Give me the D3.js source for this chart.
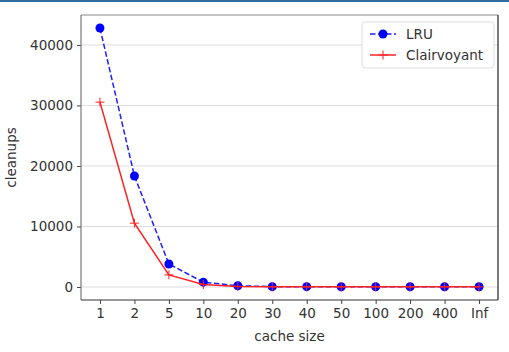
<!DOCTYPE html>
<html>
<head>
<meta charset="utf-8">
<script src="https://cdn.jsdelivr.net/npm/d3@7"></script>
<style>
  body { margin: 0; background: #fff; }
  text { font-family: "DejaVu Sans", sans-serif; fill: #333; }
  .axis text { font-size: 13.5px; }
  .grid line { stroke: #ddd; stroke-width: 1; }
</style>
</head>
<body>
<div id="chart"></div>
<script>
// data
const cacheSizes = ['1', '2', '5', '10', '20', '30', '40', '50', '100', '200', '400', 'Inf'];
const lruCleanups = [42800, 18350, 3800, 800, 200, 60, 50, 40, 40, 40, 40, 40];
const clairvoyantCleanups = [30550, 10550, 2000, 400, 100, 30, 20, 20, 20, 20, 20, 20];
const yTicks = [0, 10000, 20000, 30000, 40000];

const W = 509, H = 352;
const margin = { top: 15, right: 11, bottom: 52, left: 81 };
const width = W - margin.left - margin.right;
const height = H - margin.top - margin.bottom;

const svg = d3.select('#chart').append('svg')
  .attr('width', W)
  .attr('height', H);

// thin blue strip along the top edge
svg.append('rect')
  .attr('x', 0).attr('y', 0)
  .attr('width', W).attr('height', 2)
  .attr('fill', '#2f6f9f');

const g = svg.append('g')
  .attr('transform', 'translate(' + margin.left + ',' + margin.top + ')');

// set scales
const x = d3.scalePoint()
  .domain(cacheSizes)
  .range([0, width])
  .padding(0.55);

const y = d3.scaleLinear()
  .domain([-2150, 44950])
  .range([height, 0]);

// grid
g.append('g')
  .attr('class', 'grid')
  .selectAll('line')
  .data(yTicks)
  .enter().append('line')
  .attr('x1', 0)
  .attr('x2', width)
  .attr('y1', d => y(d))
  .attr('y2', d => y(d));

// axes
const yAxis = d3.axisLeft(y).tickValues(yTicks).tickFormat(d3.format('d')).tickSize(4).tickPadding(4);
g.append('g')
  .attr('class', 'axis axis--y')
  .call(yAxis)
  .call(a => a.select('.domain').remove());

const xAxis = d3.axisBottom(x).tickSize(4).tickPadding(4);
g.append('g')
  .attr('class', 'axis axis--x')
  .attr('transform', 'translate(0,' + height + ')')
  .call(xAxis)
  .call(a => a.select('.domain').remove());

g.selectAll('.axis .tick line').attr('stroke', '#444');

// frame
g.append('line').attr('x1', 0).attr('x2', 0).attr('y1', 0).attr('y2', height)
  .attr('stroke', '#777').attr('stroke-width', 1.2);
g.append('line').attr('x1', 0).attr('x2', width).attr('y1', 0).attr('y2', 0)
  .attr('stroke', '#888').attr('stroke-width', 1.2);
g.append('line').attr('x1', width).attr('x2', width).attr('y1', 0).attr('y2', height)
  .attr('stroke', '#222').attr('stroke-width', 1.2);
g.append('line').attr('x1', 0).attr('x2', width).attr('y1', height).attr('y2', height)
  .attr('stroke', '#333').attr('stroke-width', 1.2);

// axis labels
svg.append('text')
  .attr('x', margin.left + width / 2)
  .attr('y', 341)
  .attr('text-anchor', 'middle')
  .style('font-size', '13.5px')
  .text('cache size');

svg.append('text')
  .attr('transform', 'translate(16,' + (margin.top + height / 2) + ') rotate(-90)')
  .attr('text-anchor', 'middle')
  .style('font-size', '13.5px')
  .text('cleanups');

const line = d3.line()
  .x((d, i) => x(cacheSizes[i]))
  .y(d => y(d));

// LRU series
g.append('path')
  .datum(lruCleanups)
  .attr('fill', 'none')
  .attr('stroke', '#1f1fff')
  .attr('stroke-width', 1.5)
  .attr('stroke-dasharray', '5.5,2.5')
  .attr('d', line);

g.selectAll('.lru-dot')
  .data(lruCleanups)
  .enter().append('circle')
  .attr('class', 'lru-dot')
  .attr('cx', (d, i) => x(cacheSizes[i]))
  .attr('cy', d => y(d))
  .attr('r', 4.5)
  .attr('fill', '#0000ff');

// Clairvoyant series
g.append('path')
  .datum(clairvoyantCleanups)
  .attr('fill', 'none')
  .attr('stroke', '#ff2020')
  .attr('stroke-width', 1.5)
  .attr('d', line);

g.selectAll('.cv-mark')
  .data(clairvoyantCleanups)
  .enter().append('path')
  .attr('class', 'cv-mark')
  .attr('transform', (d, i) => 'translate(' + x(cacheSizes[i]) + ',' + y(d) + ')')
  .attr('d', 'M-4.5,0H4.5M0,-4.5V4.5')
  .attr('stroke', '#ff2020')
  .attr('stroke-width', 1);

// legend
const lg = svg.append('g').attr('transform', 'translate(362,22)');
lg.append('rect')
  .attr('width', 132).attr('height', 46)
  .attr('rx', 3)
  .attr('fill', '#fff')
  .attr('stroke', '#ddd');

lg.append('line').attr('x1', 8).attr('x2', 34).attr('y1', 12).attr('y2', 12)
  .attr('stroke', '#1f1fff').attr('stroke-width', 1.5).attr('stroke-dasharray', '5.5,2.5');
lg.append('circle').attr('cx', 21).attr('cy', 12).attr('r', 4.5).attr('fill', '#0000ff');
lg.append('text').attr('x', 44).attr('y', 17).style('font-size', '13.5px').text('LRU');

lg.append('line').attr('x1', 8).attr('x2', 34).attr('y1', 33).attr('y2', 33)
  .attr('stroke', '#ff2020').attr('stroke-width', 1.5);
lg.append('path').attr('transform', 'translate(21,33)')
  .attr('d', 'M-4.5,0H4.5M0,-4.5V4.5')
  .attr('stroke', '#ff2020').attr('stroke-width', 1);
lg.append('text').attr('x', 44).attr('y', 38).style('font-size', '13.5px').text('Clairvoyant');
</script>
</body>
</html>
